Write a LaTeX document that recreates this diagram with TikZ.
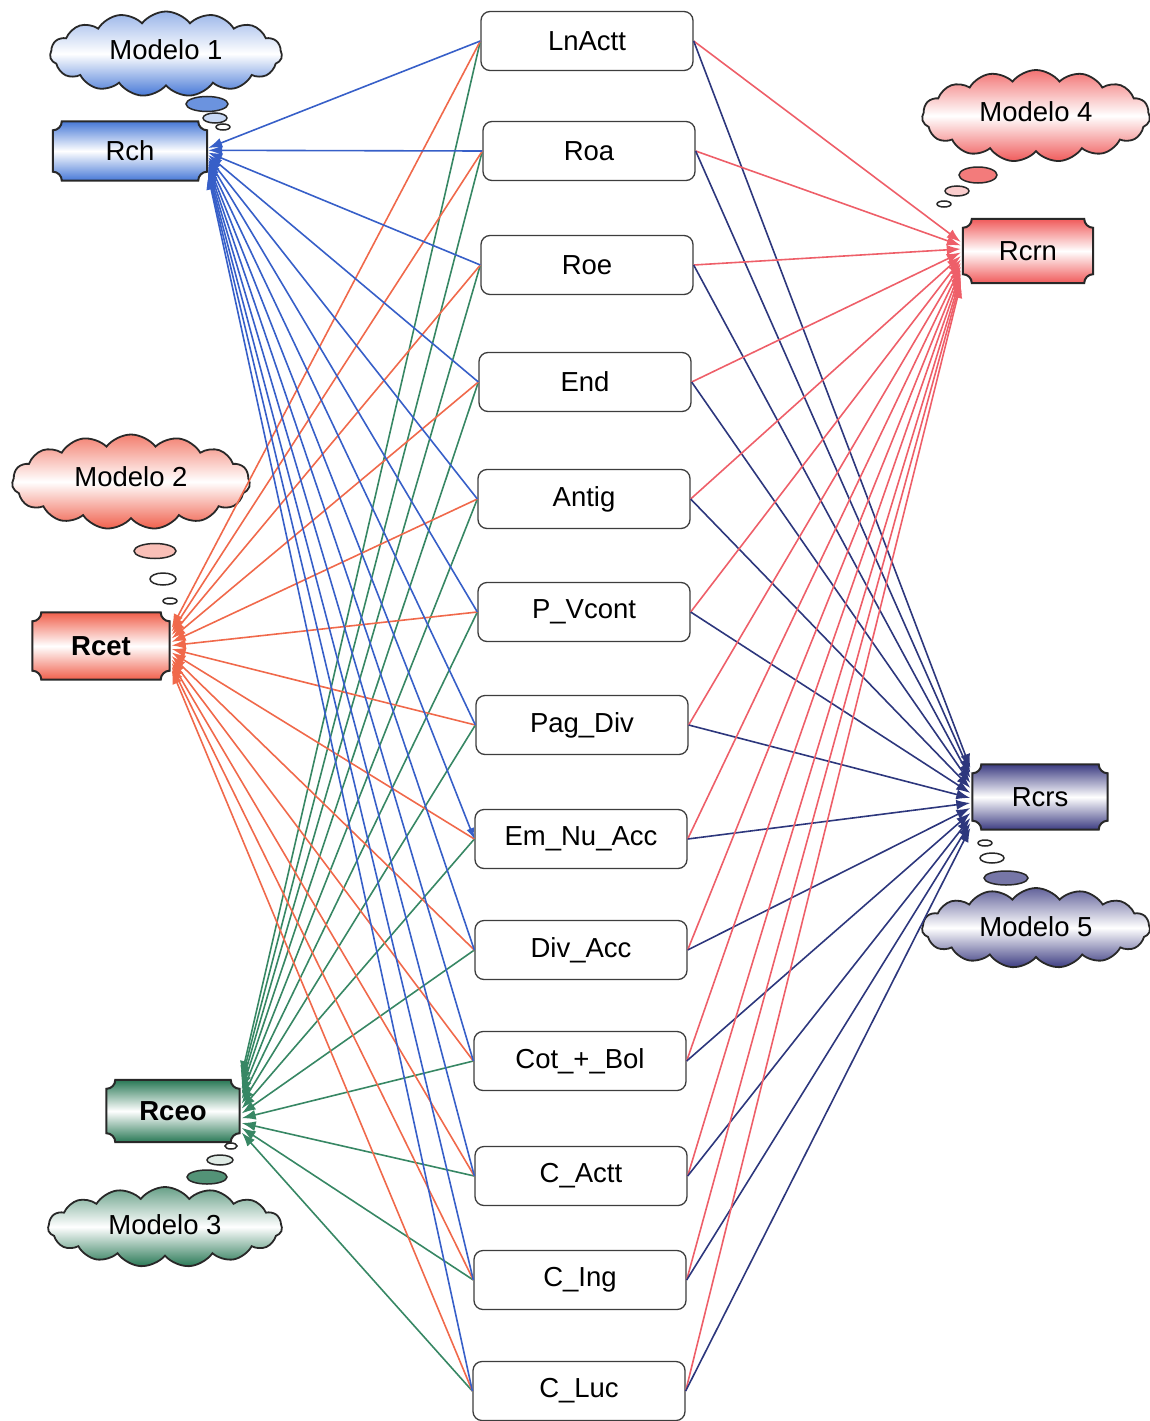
\documentclass[tikz,border=0pt]{standalone}
\usepackage{fontspec}
\setmainfont{Liberation Sans}
\usetikzlibrary{shapes.symbols,shapes.geometric,arrows.meta}
\pgfdeclarelayer{bg}
\pgfsetlayers{bg,main}
\definecolor{cBlue}{RGB}{70,120,215}
\definecolor{lBlue}{RGB}{55,95,200}
\definecolor{cRed}{RGB}{240,95,75}
\definecolor{lRed}{RGB}{240,105,75}
\definecolor{cGreen}{RGB}{40,120,85}
\definecolor{lGreen}{RGB}{55,135,100}
\definecolor{cPink}{RGB}{240,90,90}
\definecolor{lPink}{RGB}{238,95,105}
\definecolor{cNavy}{RGB}{60,60,130}
\definecolor{lNavy}{RGB}{45,55,125}
\definecolor{edgec}{RGB}{40,40,40}
\newcommand\bigfnt{\fontsize{27.5}{32}\selectfont}
\newcommand\plaque[2]{%
 \begin{pgfonlayer}{bg}
 \draw[edgec,line width=2pt,top color=#2,bottom color=#2,middle color=white]
  ([xshift=-9pt]#1.north east) arc[start angle=180,end angle=270,radius=9pt]
  -- ([yshift=9pt]#1.south east) arc[start angle=90,end angle=180,radius=9pt]
  -- ([xshift=9pt]#1.south west) arc[start angle=0,end angle=90,radius=9pt]
  -- ([yshift=-9pt]#1.north west) arc[start angle=270,end angle=360,radius=9pt]
  -- cycle;
 \end{pgfonlayer}}
\tikzset{
 cbox/.style={draw=edgec!90,line width=1.3pt,rounded corners=9pt,minimum width=212pt,minimum height=59pt,fill=white,font=\bigfnt,inner sep=0pt},
 plq/.style={rectangle,inner sep=0pt,font=\bigfnt},
 cld/.style={cloud,cloud puffs=15,cloud puff arc=105,cloud ignores aspect,draw=edgec,line width=1.8pt,font=\bigfnt,inner sep=0pt},
 bub/.style={ellipse,draw=edgec,line width=1.5pt,inner sep=0pt},
 conn/.style={line width=1.6pt,-{Latex[length=14pt,width=10pt]}},
}
\begin{document}
\begin{tikzpicture}[x=1pt,y=1pt]
\useasboundingbox (0,-1421) rectangle (1150,0);
% centre boxes
\node[cbox] (b1) at (587,-41) {LnActt};
\node[cbox] (b2) at (589,-151) {Roa};
\node[cbox] (b3) at (587,-265) {Roe};
\node[cbox] (b4) at (585,-382) {End};
\node[cbox] (b5) at (584,-499) {Antig};
\node[cbox] (b6) at (584,-612) {P\_Vcont};
\node[cbox] (b7) at (582,-725) {Pag\_Div};
\node[cbox] (b8) at (581,-839) {Em\_Nu\_Acc};
\node[cbox] (b9) at (581,-950) {Div\_Acc};
\node[cbox] (b10) at (580,-1061) {Cot\_+\_Bol};
\node[cbox] (b11) at (581,-1176) {C\_Actt};
\node[cbox] (b12) at (580,-1280) {C\_Ing};
\node[cbox] (b13) at (579,-1391) {C\_Luc};
% model plaques
\node[plq,minimum width=154pt,minimum height=59pt] (Rch) at (130,-151) {Rch};
\node[plq,minimum width=137pt,minimum height=67pt] (Rcet) at (101,-646) {\bfseries Rcet};
\node[plq,minimum width=133pt,minimum height=62pt] (Rceo) at (173,-1111) {\bfseries Rceo};
\node[plq,minimum width=130pt,minimum height=64pt] (Rcrn) at (1028,-251) {Rcrn};
\node[plq,minimum width=135pt,minimum height=65pt] (Rcrs) at (1040,-797) {Rcrs};
\plaque{Rch}{cBlue}
\plaque{Rcet}{cRed}
\plaque{Rceo}{cGreen}
\plaque{Rcrn}{cPink}
\plaque{Rcrs}{cNavy}
% clouds
\node[cld,minimum width=232pt,minimum height=85pt,top color=cBlue!55,bottom color=cBlue,middle color=white] (m1) at (166,-54) {\raisebox{8pt}{Modelo 1}};
\node[cld,minimum width=238pt,minimum height=95pt,top color=cRed!80,bottom color=cRed,middle color=white] (m2) at (131,-482) {\raisebox{10pt}{Modelo 2}};
\node[cld,minimum width=234pt,minimum height=80pt,top color=cGreen!70,bottom color=cGreen,middle color=white] (m3) at (165,-1227) {\raisebox{4pt}{Modelo 3}};
\node[cld,minimum width=228pt,minimum height=92pt,top color=cPink!85,bottom color=cPink,middle color=white] (m4) at (1036,-116) {\raisebox{9pt}{Modelo 4}};
\node[cld,minimum width=228pt,minimum height=80pt,top color=cNavy!80,bottom color=cNavy,middle color=white] (m5) at (1036,-928) {\raisebox{3pt}{Modelo 5}};
% thought bubbles
\node[bub,minimum width=42pt,minimum height=15pt,fill=cBlue!80] (t1a) at (207,-104) {};
\node[bub,minimum width=24pt,minimum height=10pt,fill=cBlue!30] (t1b) at (215,-118) {};
\node[bub,minimum width=14pt,minimum height=6pt,fill=white] (t1c) at (223,-127) {};
\node[bub,minimum width=42pt,minimum height=15pt,fill=cRed!40] (t2a) at (155,-551) {};
\node[bub,minimum width=26pt,minimum height=12pt,fill=white] (t2b) at (163,-579) {};
\node[bub,minimum width=14pt,minimum height=6pt,fill=white] (t2c) at (170,-601) {};
\node[bub,minimum width=12pt,minimum height=6pt,fill=white] (t3c) at (231,-1146) {};
\node[bub,minimum width=26pt,minimum height=10pt,fill=cGreen!15] (t3b) at (220,-1160) {};
\node[bub,minimum width=40pt,minimum height=14pt,fill=cGreen!80] (t3a) at (207,-1177) {};
\node[bub,minimum width=38pt,minimum height=16pt,fill=cPink!80] (t4a) at (978,-175) {};
\node[bub,minimum width=24pt,minimum height=10pt,fill=cPink!30] (t4b) at (957,-191) {};
\node[bub,minimum width=14pt,minimum height=6pt,fill=white] (t4c) at (944,-204) {};
\node[bub,minimum width=14pt,minimum height=6pt,fill=white] (t5c) at (985,-843) {};
\node[bub,minimum width=24pt,minimum height=10pt,fill=white] (t5b) at (992,-858) {};
\node[bub,minimum width=44pt,minimum height=14pt,fill=cNavy!70] (t5a) at (1006,-878) {};
% connectors
\foreach \i in {1,...,13}{
  \pgfmathsetmacro\da{3-(\i-1)*2.3}
  \pgfmathsetmacro\db{18-(\i-1)*3.5}
  \pgfmathsetmacro\dc{36-(\i-1)*4.8}
  \pgfmathsetmacro\dd{9-(\i-1)*3.5}
  \pgfmathsetmacro\de{29-(\i-1)*5}
  \draw[conn,lGreen] (b\i.west) -- ([yshift=\dc pt,xshift=2pt]Rceo.east);
  \draw[conn,lRed] (b\i.west) -- ([yshift=\db pt,xshift=2pt]Rcet.east);
  \ifnum\i=8
    \draw[conn,lBlue,{Latex[length=11pt,width=8pt]}-{Latex[length=14pt,width=10pt]}] (b\i.west) -- ([yshift=\da pt,xshift=1pt]Rch.east);
  \else
    \draw[conn,lBlue] (b\i.west) -- ([yshift=\da pt,xshift=1pt]Rch.east);
  \fi
  \draw[conn,lPink] (b\i.east) -- ([yshift=\dd pt,xshift=-2pt]Rcrn.west);
  \draw[conn,lNavy] (b\i.east) -- ([yshift=\de pt,xshift=-2pt]Rcrs.west);
}
\end{tikzpicture}
\end{document}
